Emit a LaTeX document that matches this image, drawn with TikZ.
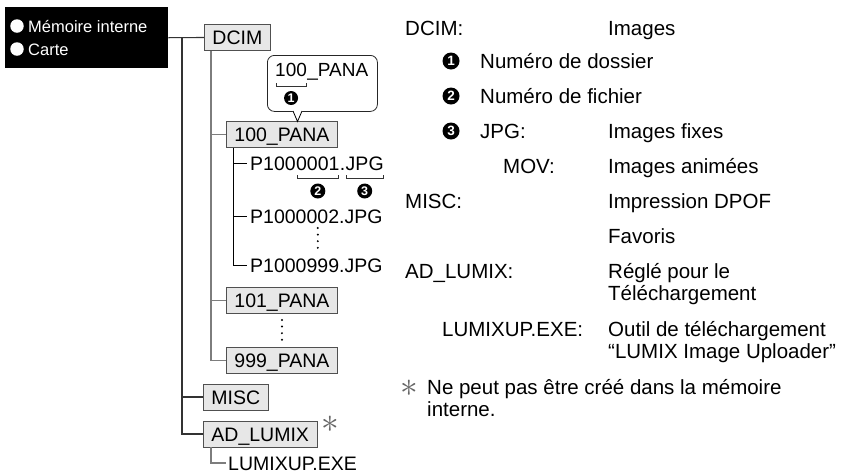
\documentclass[tikz,border=0pt]{standalone}
\usepackage{fontspec}
\setmainfont{Liberation Sans}
\usepackage{graphicx}
\usepackage{tikz}
\usetikzlibrary{positioning,calc}
\definecolor{FolderGray}{RGB}{231,231,231}
\definecolor{EdgeGray}{RGB}{80,80,80}
\definecolor{TreeGray}{RGB}{125,125,125}
\tikzset{
  folder/.style={draw=EdgeGray,fill=FolderGray,line width=0.9pt,inner xsep=8pt,inner ysep=0pt,
    minimum height=26pt,text height=14pt,text depth=0pt,font=\fontsize{19.5}{22}\selectfont},
  file/.style={inner sep=0pt,anchor=base west,text height=14pt,text depth=0pt,font=\fontsize{19.5}{22}\selectfont},
  lab/.style={inner sep=0pt,anchor=base west,font=\fontsize{20.5}{22}\selectfont},
  num/.style={circle,fill=black,text=white,inner sep=0pt,minimum size=15pt,font=\fontsize{12.5}{12.5}\selectfont\bfseries},
  trunk/.style={draw=black!80,line width=1.1pt},
  branch/.style={draw=TreeGray,line width=1.3pt},
  twig/.style={draw=black,line width=0.8pt},
  brace/.style={draw=black!80,line width=0.7pt},
  vdots/.style={draw=black,line width=2.2pt,line cap=round,dash pattern=on 0pt off 6.6pt},
}
\tikzset{mediabox/.style={fill=black,minimum width=163pt,minimum height=61pt,inner sep=0pt},
  bullet/.style={circle,fill=white,inner sep=0pt,minimum size=13.5pt},
  boxtext/.style={inner sep=0pt,anchor=base west,text=white,font=\fontsize{16.5}{20}\selectfont},
  bubble/.style={draw=black!85,fill=white,line width=0.8pt,rounded corners=7pt,minimum width=110pt,minimum height=56pt},
  astnote/.style={inner sep=0pt,text=black!60,font=\fontsize{20}{20}\selectfont}}

\begin{document}
\begin{tikzpicture}[x=1pt,y=-1pt]
\useasboundingbox (0,0) rectangle (845,475);
% black box with the two media
\node[mediabox,anchor=north west] (media) at (5,7) {};
\node[bullet] (b1) at (17,26) {};
\node[boxtext] (mem) at (28,32) {Mémoire interne};
\node[bullet] (b2) at (17,49) {};
\node[boxtext] (card) at (28,55) {Carte};
% folders
\node[folder,anchor=west] (dcim) at (204,37.5) {DCIM};
\node[folder,anchor=west] (p100) at (226,134.5) {100\_PANA};
\node[folder,anchor=west] (p101) at (226,300.5) {101\_PANA};
\node[folder,anchor=west] (p999) at (226,360.5) {999\_PANA};
\node[folder,anchor=west] (misc) at (203,397) {MISC};
\node[folder,anchor=west] (adlumix) at (203,434) {AD\_LUMIX};
\node[astnote] (ast1) at (330,424) {\scalebox{1.7}{$\ast$}};
% files
\node[file] (fa) at (250,170) {P100};
\node[file] (fb) at (fa.base east) {0001};
\node[file] (fc) at (fb.base east) {.};
\node[file] (fd) at (fc.base east) {JPG};
\node[file] (f2) at (250,223) {P1000002.JPG};
\node[file] (f999) at (250,272) {P1000999.JPG};
\node[file] (lumixup) at (228,470) {LUMIXUP.EXE};
\draw[brace] ($(fb.base west)+(1,5)$) -- ++(0,3.5) -- ($(fb.base east)+(-1,8.5)$) -- ++(0,-3.5);
\draw[brace] ($(fd.base west)+(1,5)$) -- ++(0,3.5) -- ($(fd.base east)+(-1,8.5)$) -- ++(0,-3.5);
\node[num] (n2t) at ($(fb.base)+(0,21)$) {2};
\node[num] (n3t) at ($(fd.base)+(0,21)$) {3};
\coordinate (dotsa) at ($(fb.base)+(0,58)$);
\coordinate (dotsb) at ($(fb.base)+(0,78)$);
\coordinate (dotsc) at ($(p101.south)+(0,6)$);
\coordinate (dotsd) at ($(p101.south)+(0,26)$);
\draw[vdots] (dotsa) -- (dotsb);
\draw[vdots] (dotsc) -- (dotsd);
% tree lines
\coordinate (tk) at (182,37.5);
\coordinate (ds) at ([xshift=7pt]dcim.south west);
\coordinate (fs) at ([xshift=7pt]p100.south west);
\coordinate (ls) at ([xshift=8pt]adlumix.south west);
\draw[trunk] (media.east) -- (dcim.west);
\draw[trunk] (tk) |- (adlumix.west);
\draw[trunk] (tk |- misc.west) -- (misc.west);
\draw[branch] (ds) |- (p999.west);
\draw[branch] (ds |- p100.west) -- (p100.west);
\draw[branch] (ds |- p101.west) -- (p101.west);
\draw[twig] (fs) |- ([xshift=-3pt]f999.west);
\draw[twig] (fs |- fa.west) -- ([xshift=-3pt]fa.west);
\draw[twig] (fs |- f2.west) -- ([xshift=-3pt]f2.west);
\draw[branch] (ls) |- ([xshift=-2pt]lumixup.west);
% callout on 100_PANA
\node[bubble,anchor=north west] (cbox) at (267,55) {};
\node[file,font=\fontsize{19}{22}\selectfont] (c100) at (275,76) {100};
\node[file,font=\fontsize{19}{22}\selectfont] (cpana) at (c100.base east) {\_PANA};
\draw[brace] ($(c100.base west)+(1,7)$) -- ++(0,3) -- ($(c100.base east)+(-1,10)$) -- ++(0,-3);
\node[num,minimum size=14pt] (n1c) at ($(c100.base)+(0,22)$) {1};
\coordinate (tip) at (297.5,121.5);
\fill[white] (292.4,110.3) -- (tip) -- (302.6,110.3) -- cycle;
\draw[twig] (293,111) -- (tip) -- (302,111);
% legend on the right
\node[lab] (kdcim) at (405,35) {DCIM:};
\node[lab] (vdcim) at (608,35) {Images};
\node[num,minimum size=17pt,font=\fontsize{13.5}{13.5}\selectfont\bfseries] (n1) at (451,61) {1};
\node[lab] (vfold) at (480,68) {Numéro de dossier};
\node[num,minimum size=17pt,font=\fontsize{13.5}{13.5}\selectfont\bfseries] (n2) at (451,96) {2};
\node[lab] (vfile) at (480,103) {Numéro de fichier};
\node[num,minimum size=17pt,font=\fontsize{13.5}{13.5}\selectfont\bfseries] (n3) at (451,131) {3};
\node[lab] (kjpg) at (480,138) {JPG:};
\node[lab] (vjpg) at (608,138) {Images fixes};
\node[lab] (kmov) at (503,173) {MOV:};
\node[lab] (vmov) at (608,173) {Images animées};
\node[lab] (kmisc) at (405,208) {MISC:};
\node[lab] (vmisc) at (608,208) {Impression DPOF};
\node[lab] (vfav) at (608,243) {Favoris};
\node[lab] (klumix) at (405,278) {AD\_LUMIX:};
\node[lab] (vlumix) at (608,278) {Réglé pour le};
\node[lab] (vlumixb) at (608,300) {Téléchargement};
\node[lab] (kexe) at (442,336) {LUMIXUP.EXE:};
\node[lab] (vexe) at (608,336) {Outil de téléchargement};
\node[lab] (vexeb) at (608,358) {“LUMIX Image Uploader”};
\node[astnote] (ast2) at (409,388) {\scalebox{1.7}{$\ast$}};
\node[lab] (nnote) at (427,394) {Ne peut pas être créé dans la mémoire};
\node[lab] (nnoteb) at (427,416) {interne.};
\end{tikzpicture}
\end{document}
